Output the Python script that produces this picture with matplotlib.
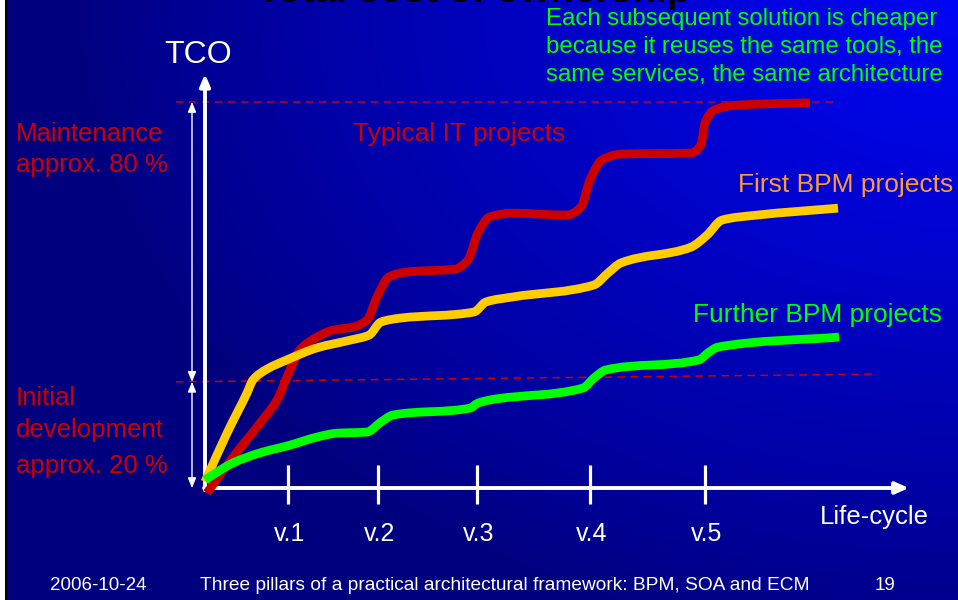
import numpy as np
import matplotlib
matplotlib.use("Agg")
import matplotlib.pyplot as plt
from matplotlib.path import Path
from matplotlib.patches import PathPatch

plt.rcParams['font.family'] = ['Liberation Sans', 'DejaVu Sans']

# ---------------- data ----------------
versions = ["v.1", "v.2", "v.3", "v.4", "v.5"]
version_pos = [0.83, 1.73, 2.72, 3.85, 5.00]

typical_x = [0.02, 0.28, 0.55, 0.72, 0.85, 0.95, 1.12, 1.28, 1.48, 1.62, 1.72, 1.84,
             2.03, 2.50, 2.63, 2.73, 2.845, 3.08, 3.62, 3.76, 3.85, 3.97, 4.16, 4.86,
             4.96, 5.00, 5.09, 5.33, 6.05]
typical_y = [-1.3, 8.0, 16.8, 22.8, 30.6, 35.8, 39.1, 40.9, 41.7, 43.5, 49.5, 54.7,
             56.0, 56.7, 59.1, 66.1, 70.2, 71.2, 70.7, 72.8, 79.8, 85.0, 86.5, 86.8,
             88.9, 94.6, 97.9, 99.2, 99.8]

first_x = [0.00, 0.22, 0.42, 0.48, 0.62, 0.82, 1.12, 1.45, 1.64, 1.76, 1.95, 2.69,
           2.81, 3.08, 3.89, 4.03, 4.16, 4.86, 5.02, 5.17, 5.52, 6.33]
first_y = [1.6, 14.2, 24.6, 28.0, 30.8, 33.2, 36.3, 38.3, 39.6, 43.0, 44.0, 45.6,
           48.2, 49.5, 52.6, 55.7, 58.3, 62.4, 65.5, 69.4, 70.7, 72.5]

further_x = [0.00, 0.28, 0.55, 0.85, 1.12, 1.32, 1.62, 1.76, 1.88, 2.65, 2.73, 2.85,
             3.78, 3.89, 4.01, 4.94, 5.04, 5.13, 6.34]
further_y = [2.1, 6.5, 9.1, 11.1, 13.2, 14.2, 14.5, 17.1, 18.9, 20.7, 22.0, 22.8,
             25.9, 28.5, 30.6, 33.2, 35.2, 36.5, 39.1]

maint_level = 100.0
initial_level = [27.5, 29.5]
level_x = [-0.29, 6.30, 6.68]

# ---------------- figure ----------------
W, H = 958, 600
fig = plt.figure(figsize=(W / 100, H / 100), dpi=100)
ax = fig.add_axes([0, 0, 1, 1])

# pixel mapping: x = (px-205)/100, y = (488-py)/3.86
x0, sx = 205.0, 100.0
y0, sy = 488.0, 3.86
xlim = ((0 - x0) / sx, (W - x0) / sx)
ylim = ((y0 - H) / sy, (y0 - 0) / sy)
ax.set_xlim(*xlim)
ax.set_ylim(*ylim)
ax.axis("off")

# gradient background
yy, xx = np.mgrid[0:H, 0:W]
d = np.sqrt(((W - xx) / 880.0) ** 2 + (yy / 650.0) ** 2)
t = np.clip(1 - d, 0, 1) ** 0.85
navy = np.array([0.0, 0.0, 0.50])
bright = np.array([0.0, 0.02, 0.96])
img = navy[None, None, :] + t[..., None] * (bright - navy)[None, None, :]
img[:, :5, :] = 1.0
img[:, 5:7, :] = 0.0
ax.imshow(img, extent=[xlim[0], xlim[1], ylim[0], ylim[1]], aspect="auto",
          origin="upper", zorder=0, interpolation="bilinear")

# dashed reference lines
ax.plot([level_x[0], level_x[1]], [maint_level, maint_level], color="#CC0000",
        lw=1.1, ls=(0, (5, 3.5)), zorder=2)
ax.plot([level_x[0], level_x[2]], initial_level, color="#CC0000",
        lw=1.1, ls=(0, (5, 3.5)), zorder=2)

# double arrows
arr_x = -0.13
ax.annotate("", xy=(arr_x, maint_level), xytext=(arr_x, initial_level[0]),
            arrowprops=dict(arrowstyle="<|-|>,head_length=0.6,head_width=0.25",
                            color="white", lw=1.0, shrinkA=0, shrinkB=0), zorder=3)
ax.annotate("", xy=(arr_x, initial_level[0]), xytext=(arr_x, 0.0),
            arrowprops=dict(arrowstyle="<|-|>,head_length=0.6,head_width=0.25",
                            color="white", lw=1.0, shrinkA=0, shrinkB=0), zorder=3)

# axes arrows
ax.annotate("", xy=(0, (y0 - 74) / sy), xytext=(0, -0.6),
            arrowprops=dict(arrowstyle="-|>,head_length=0.7,head_width=0.3",
                            color="white", lw=2.8, shrinkA=0, shrinkB=0), zorder=4)
ax.annotate("", xy=((909 - x0) / sx, 0), xytext=(-0.01, 0),
            arrowprops=dict(arrowstyle="-|>,head_length=0.8,head_width=0.35",
                            color="white", lw=2.8, shrinkA=0, shrinkB=0), zorder=4)

# version ticks
for vp in version_pos:
    ax.plot([vp, vp], [6.0, -4.1], color="white", lw=2.3, solid_capstyle="butt", zorder=4)


def smooth_path(xs, ys):
    """Monotone cubic Hermite (Fritsch-Carlson) through the points, as Bezier path."""
    x = np.asarray(xs, float)
    y = np.asarray(ys, float)
    h = np.diff(x)
    delta = np.diff(y) / h
    n = len(x)
    m = np.zeros(n)
    m[0] = delta[0]
    m[-1] = delta[-1]
    for i in range(1, n - 1):
        if delta[i - 1] * delta[i] <= 0:
            m[i] = 0.0
        else:
            w1 = 2 * h[i] + h[i - 1]
            w2 = h[i] + 2 * h[i - 1]
            m[i] = (w1 + w2) / (w1 / delta[i - 1] + w2 / delta[i])
    verts = [(x[0], y[0])]
    codes = [Path.MOVETO]
    for i in range(n - 1):
        verts += [(x[i] + h[i] / 3, y[i] + m[i] * h[i] / 3),
                  (x[i + 1] - h[i] / 3, y[i + 1] - m[i + 1] * h[i] / 3),
                  (x[i + 1], y[i + 1])]
        codes += [Path.CURVE4] * 3
    return Path(verts, codes)


for xs, ys, col, z in [(typical_x, typical_y, "#CC0000", 5),
                       (first_x, first_y, "#FFCC00", 6),
                       (further_x, further_y, "#00FF00", 7)]:
    ax.add_patch(PathPatch(smooth_path(xs, ys), facecolor="none", edgecolor=col,
                           lw=6.3, capstyle="butt", joinstyle="round", zorder=z))


def ftext(px, py, s, **kw):
    fig.text(px / W, 1 - py / H, s, va="baseline", **kw)


# title (cut off at top)
ftext(257, 1.5, "Total cost of ownership", color="black", fontsize=28, fontweight="bold")

ftext(164, 63, "TCO", color="white", fontsize=23)

green = "#00FF00"
ftext(546, 25, "Each subsequent solution is cheaper", color=green, fontsize=17.3)
ftext(546, 53, "because it reuses the same tools, the", color=green, fontsize=17.3)
ftext(546, 81, "same services, the same architecture", color=green, fontsize=17.3)

red = "#CC0000"
ftext(16, 141, "Maintenance", color=red, fontsize=18.5)
ftext(16, 172, "approx. 80 %", color=red, fontsize=18.5)
ftext(16, 405, "Initial", color=red, fontsize=18.5)
ftext(16, 437, "development", color=red, fontsize=18.5)
ftext(16, 473, "approx. 20 %", color=red, fontsize=18.5)

ftext(353, 141, "Typical IT projects", color=red, fontsize=19)
ftext(738, 192, "First BPM projects", color="#FF9933", fontsize=19)
ftext(693, 322, "Further BPM projects", color=green, fontsize=19)

ftext(820, 524, "Life-cycle", color="white", fontsize=18.5)
for vp, lab in zip(version_pos, versions):
    fig.text((vp * sx + x0 + 2) / W, 1 - 541 / H, lab, color="white", fontsize=18,
             ha="center", va="baseline")

ftext(50, 590, "2006-10-24", color="white", fontsize=13.5)
ftext(200, 590, "Three pillars of a practical architectural framework: BPM, SOA and ECM",
      color="white", fontsize=13.8)
ftext(875, 590, "19", color="white", fontsize=13.5)

fig.savefig("out.png", dpi=100)
